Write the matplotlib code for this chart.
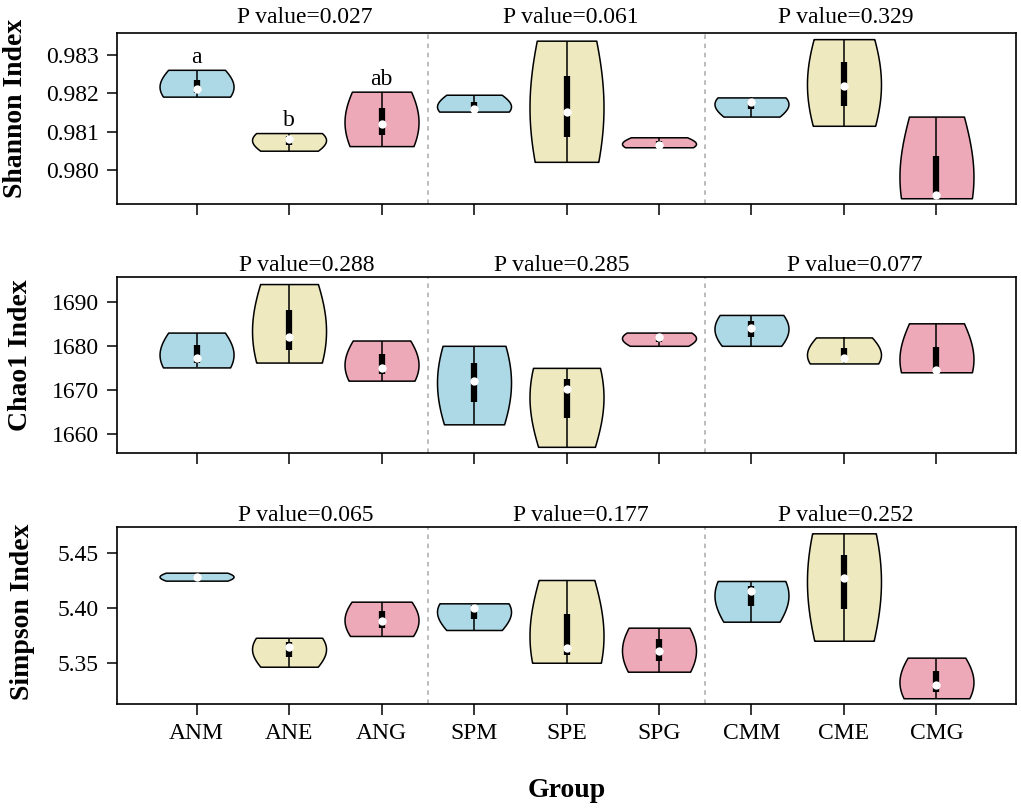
import matplotlib
matplotlib.use("Agg")
import matplotlib.pyplot as plt
import numpy as np

plt.rcParams['font.family'] = ['Liberation Serif', 'DejaVu Serif']

groups = ['ANM', 'ANE', 'ANG', 'SPM', 'SPE', 'SPG', 'CMM', 'CME', 'CMG']
colors = ['#ADD8E6', '#EEE9BF', '#EEA9B8'] * 3

# three replicates per group
shannon = [
    [0.98191, 0.98210, 0.98261],
    [0.98050, 0.98081, 0.98096],
    [0.98062, 0.98119, 0.98204],
    [0.98152, 0.98158, 0.98196],
    [0.98021, 0.98152, 0.98337],
    [0.98059, 0.98065, 0.98085],
    [0.98139, 0.98178, 0.98189],
    [0.98115, 0.98220, 0.98341],
    [0.97926, 0.97934, 0.98139],
]
chao1 = [
    [1675.1, 1677.2, 1683.0],
    [1676.2, 1682.1, 1694.0],
    [1672.1, 1675.0, 1681.2],
    [1662.2, 1672.1, 1680.0],
    [1657.1, 1670.1, 1675.0],
    [1680.0, 1681.9, 1683.0],
    [1680.0, 1684.1, 1687.0],
    [1676.0, 1677.2, 1681.9],
    [1674.0, 1674.5, 1685.1],
]
simpson = [
    [5.4247, 5.4283, 5.4319],
    [5.3469, 5.3650, 5.3731],
    [5.3747, 5.3882, 5.4057],
    [5.3801, 5.4003, 5.4042],
    [5.3505, 5.3641, 5.4253],
    [5.3424, 5.3611, 5.3822],
    [5.3876, 5.4156, 5.4244],
    [5.3704, 5.4274, 5.4675],
    [5.3184, 5.3304, 5.3551],
]

p_shannon = ['0.027', '0.061', '0.329']
p_chao1 = ['0.288', '0.285', '0.077']
p_simpson = ['0.065', '0.177', '0.252']
letters_shannon = ['a', 'b', 'ab']

panels = [
    dict(data=shannon, label='Shannon Index', p=p_shannon, px=[2.17, 5.05, 8.02], poff=7,
         ylim=(0.97911, 0.98357), ticks=[0.980, 0.981, 0.982, 0.983], fmt='{:.3f}',
         box=(33, 204), lab=(16, 108)),
    dict(data=chao1, label='Chao1 Index', p=p_chao1, px=[2.19, 4.95, 8.12], poff=4.5,
         ylim=(1655.7, 1695.6), ticks=[1660, 1670, 1680, 1690], fmt='{:.0f}',
         box=(277, 453), lab=(21, 355)),
    dict(data=simpson, label='Simpson Index', p=p_simpson, px=[2.18, 5.15, 8.02], poff=4,
         ylim=(5.3132, 5.4732), ticks=[5.35, 5.40, 5.45], fmt='{:.2f}',
         box=(527, 704), lab=(23, 612)),
]

W, H = 1021, 809
fig = plt.figure(figsize=(W / 100, H / 100), dpi=100)
pos = np.arange(1, len(groups) + 1)
left, right = 117, 1016

for k, pan in enumerate(panels):
    top, bottom = pan['box']
    ax = fig.add_axes([left / W, 1 - bottom / H, (right - left) / W, (bottom - top) / H])
    vp = ax.violinplot(pan['data'], positions=pos, widths=0.8, showextrema=False,
                       bw_method=1.35, points=200)
    for body, c in zip(vp['bodies'], colors):
        body.set_facecolor(c)
        body.set_edgecolor('black')
        body.set_linewidth(1.1)
        body.set_alpha(1)
        body.set_zorder(2)
    for x, vals in zip(pos, pan['data']):
        vals = np.array(vals)
        q1, med, q3 = np.percentile(vals, [25, 50, 75])
        ax.vlines(x, vals.min(), vals.max(), color='black', lw=1.1, zorder=3)
        ax.vlines(x, q1, q3, color='black', lw=4.5, zorder=4, capstyle='butt')
        ax.plot(x, med, 'o', color='white', ms=6, mec='none', zorder=5)
    for xs in (3.5, 6.5):
        ax.axvline(xs, color='#AAAAAA', ls=(0, (3, 3)), lw=1.1, zorder=1)
    for tx, pv in zip(pan['px'], pan['p']):
        ax.annotate('P value=' + pv, xy=(tx, 1), xycoords=('data', 'axes fraction'),
                    xytext=(0, pan['poff']), textcoords='offset points',
                    ha='center', va='baseline', fontsize=17)
    if k == 0:
        for x, vals, lt in zip(pos, pan['data'], letters_shannon):
            ax.annotate(lt, xy=(x, max(vals)), xytext=(0, 5), textcoords='offset points',
                        ha='center', va='baseline', fontsize=17)
    ax.set_xlim(0.14, 9.86)
    ax.set_ylim(*pan['ylim'])
    ax.set_yticks(pan['ticks'])
    ax.set_yticklabels([pan['fmt'].format(t) for t in pan['ticks']])
    ax.set_xticks(pos)
    if k == 2:
        ax.set_xticklabels(groups)
    else:
        ax.set_xticklabels([])
    ax.tick_params(axis='y', length=7, width=1.1, pad=6, labelsize=17)
    ax.tick_params(axis='x', length=8, width=1.1, pad=6, labelsize=17)
    for s in ax.spines.values():
        s.set_linewidth(1.2)
    fig.text(pan['lab'][0] / W, 1 - pan['lab'][1] / H, pan['label'], rotation=90,
             ha='center', va='center', fontsize=20, fontweight='bold')

fig.text((left + right) / 2 / W, 1 - 797 / H, 'Group', ha='center', va='baseline',
         fontsize=20, fontweight='bold')

fig.savefig('out.png', dpi=100)
